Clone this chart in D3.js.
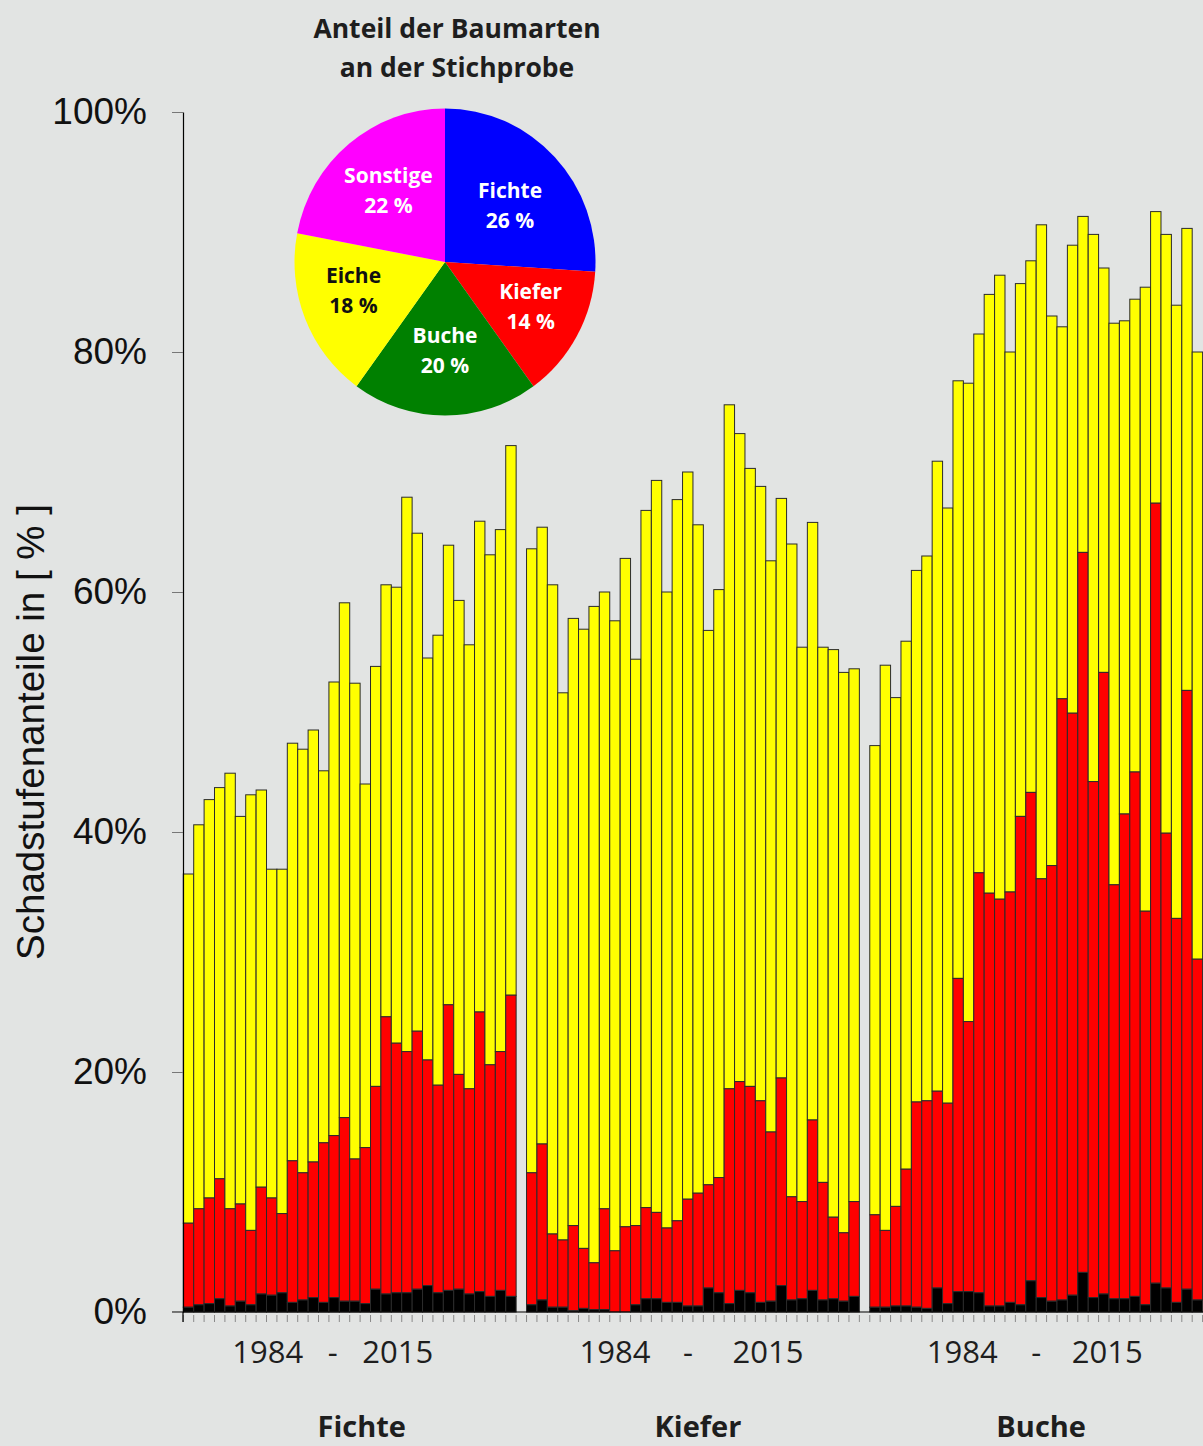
<!DOCTYPE html>
<html><head>
<meta charset="utf-8">
<title>Schadstufenanteile</title>
<script src="https://cdnjs.cloudflare.com/ajax/libs/d3/7.8.5/d3.min.js"></script>
<style>
body { margin: 0; background: #e2e4e3; }
svg { display: block; }
</style>
</head>
<body>
<div class="chart"></div>
<script>
// Erhebungsjahre 1984 - 2015
const years = [1984, 1985, 1986, 1987, 1988, 1989, 1990, 1991, 1992, 1993, 1994, 1995, 1996, 1997, 1998, 1999,
               2000, 2001, 2002, 2003, 2004, 2005, 2006, 2007, 2008, 2009, 2010, 2011, 2012, 2013, 2014, 2015];
const species = ["Fichte", "Kiefer", "Buche"];

// kumulierte Anteile in %: abgestorben (schwarz), deutlich geschaedigt (rot), gesamt inkl. Warnstufe (gelb)
const fichteAbg  = [0.4, 0.6, 0.7, 1.1, 0.5, 0.9, 0.6, 1.5, 1.4, 1.6, 0.8, 1.0, 1.2, 0.8, 1.2, 0.9, 0.9, 0.7, 1.9, 1.5, 1.6, 1.6, 1.9, 2.2, 1.6, 1.8, 1.9, 1.5, 1.7, 1.3, 1.8, 1.3];
const fichteDeut = [7.4, 8.6, 9.5, 11.1, 8.6, 9.0, 6.8, 10.4, 9.5, 8.2, 12.6, 11.6, 12.5, 14.1, 14.7, 16.2, 12.75, 13.7, 18.8, 24.6, 22.4, 21.7, 23.4, 21.0, 18.9, 25.6, 19.8, 18.6, 25.0, 20.6, 21.7, 26.4];
const fichteGes  = [36.5, 40.6, 42.7, 43.7, 44.9, 41.3, 43.1, 43.5, 36.9, 36.9, 47.4, 46.9, 48.5, 45.1, 52.5, 59.1, 52.4, 44.0, 53.8, 60.6, 60.4, 67.9, 64.9, 54.5, 56.4, 63.9, 59.3, 55.6, 65.9, 63.1, 65.2, 72.2];

const kieferAbg  = [0.6, 1.0, 0.4, 0.4, 0.1, 0.3, 0.2, 0.2, 0.0, 0.0, 0.6, 1.1, 1.1, 0.8, 0.8, 0.5, 0.5, 2.0, 1.6, 0.7, 1.8, 1.6, 0.8, 0.9, 2.2, 1.0, 1.1, 1.8, 1.0, 1.1, 0.9, 1.3];
const kieferDeut = [11.6, 14.0, 6.5, 6.0, 7.2, 5.3, 4.1, 8.6, 5.1, 7.1, 7.2, 8.7, 8.3, 7.0, 7.6, 9.4, 9.9, 10.6, 11.2, 18.6, 19.2, 18.8, 17.6, 15.0, 19.5, 9.6, 9.2, 16.0, 10.8, 7.9, 6.6, 9.2];
const kieferGes  = [63.6, 65.4, 60.6, 51.6, 57.8, 56.9, 58.8, 60.0, 57.6, 62.8, 54.4, 66.8, 69.3, 60.0, 67.7, 70.0, 65.6, 56.8, 60.2, 75.6, 73.2, 70.3, 68.8, 62.6, 67.8, 64.0, 55.4, 65.8, 55.4, 55.2, 53.3, 53.6];

const bucheAbg   = [0.4, 0.4, 0.5, 0.5, 0.4, 0.3, 2.0, 0.7, 1.7, 1.7, 1.6, 0.5, 0.5, 0.8, 0.6, 2.6, 1.2, 0.9, 1.0, 1.4, 3.3, 1.2, 1.5, 1.1, 1.1, 1.3, 0.6, 2.4, 2.0, 0.8, 1.9, 1.0];
const bucheDeut  = [8.1, 6.8, 8.8, 11.9, 17.5, 17.6, 18.4, 17.4, 27.8, 24.2, 36.6, 34.9, 34.4, 35.0, 41.3, 43.3, 36.1, 37.2, 51.1, 49.9, 63.3, 44.2, 53.3, 35.6, 41.5, 45.0, 33.4, 67.4, 39.9, 32.8, 51.8, 29.4];
const bucheGes   = [47.2, 53.9, 51.2, 55.9, 61.8, 63.0, 70.9, 67.0, 77.6, 77.4, 81.5, 84.8, 86.4, 80.0, 85.7, 87.6, 90.6, 83.0, 82.1, 88.9, 91.3, 89.8, 87.0, 82.4, 82.6, 84.4, 85.4, 91.7, 89.8, 83.9, 90.3, 80.0];

const yTicks = [0, 20, 40, 60, 80, 100];

// Anteil der Baumarten an der Stichprobe
const pieNames  = ["Fichte", "Kiefer", "Buche", "Eiche", "Sonstige"];
const pieValues = [26, 14, 20, 18, 22];
const pieColors = ["#0000ff", "#ff0000", "#008000", "#ffff00", "#ff00ff"];

const W = 1203, H = 1446;
const bg = "#e2e4e3";

const groups = [
  {name: species[0], abg: fichteAbg, deut: fichteDeut, ges: fichteGes},
  {name: species[1], abg: kieferAbg, deut: kieferDeut, ges: kieferGes},
  {name: species[2], abg: bucheAbg,  deut: bucheDeut,  ges: bucheGes}
];

const svg = d3.select(".chart").append("svg")
    .attr("width", W).attr("height", H);
svg.append("rect").attr("width", W).attr("height", H).attr("fill", bg);

// 32 Jahre pro Gruppe + 1 Luecke
const slots = groups.length * (years.length + 1) - 1;
const x = d3.scaleBand().domain(d3.range(slots)).range([183.3, 1202.6]).padding(0);
const y = d3.scaleLinear().domain([0, 100]).range([1312, 112]);

const slotOf = (g, i) => g * (years.length + 1) + i;

const barData = [];
groups.forEach((grp, g) => {
  years.forEach((yr, i) => {
    const a = grp.abg[i], d = grp.deut[i], t = grp.ges[i];
    barData.push({slot: slotOf(g, i), lo: d, hi: t, fill: "#ffff00"});
    barData.push({slot: slotOf(g, i), lo: a, hi: d, fill: "#ff0000"});
    barData.push({slot: slotOf(g, i), lo: 0, hi: a, fill: "#000000"});
  });
});

svg.append("g").selectAll("rect")
  .data(barData.filter(d => d.hi > d.lo))
  .join("rect")
    .attr("x", d => x(d.slot))
    .attr("width", x.bandwidth())
    .attr("y", d => y(d.hi))
    .attr("height", d => y(d.lo) - y(d.hi))
    .attr("fill", d => d.fill)
    .attr("stroke", "#2b2b2b")
    .attr("stroke-width", 1);

// x-Achse: Linie und Striche an den Balkengrenzen
svg.append("line")
    .attr("x1", 172).attr("x2", W)
    .attr("y1", y(0)).attr("y2", y(0))
    .attr("stroke", "#000").attr("stroke-width", 1.2);

const tickX = [];
groups.forEach((grp, g) => {
  for (let i = 0; i <= years.length; i++) tickX.push(x(slotOf(g, 0)) + i * x.bandwidth());
});
svg.append("g").selectAll("line")
  .data(tickX)
  .join("line")
    .attr("x1", d => d).attr("x2", d => d)
    .attr("y1", y(0) + 3).attr("y2", y(0) + 10)
    .attr("stroke", "#8a8a8a").attr("stroke-width", 1);

// y-Achse
const yAxis = svg.append("g")
    .attr("transform", "translate(183,0)")
    .call(d3.axisLeft(y).tickValues(yTicks).tickFormat(d => d + "%")
      .tickSize(11).tickSizeOuter(0).tickPadding(25));
yAxis.select(".domain").attr("stroke", "#000").attr("stroke-width", 1.2);
yAxis.selectAll(".tick line").attr("stroke", "#777");
yAxis.selectAll(".tick text")
    .attr("font-family", "'Liberation Sans', Arial, sans-serif")
    .attr("font-size", 37)
    .attr("fill", "#111");
svg.append("line")
    .attr("x1", 183).attr("x2", 183).attr("y1", y(0)).attr("y2", y(0) + 10)
    .attr("stroke", "#000").attr("stroke-width", 1.2);

svg.append("text")
    .attr("transform", "translate(44,732) rotate(-90)")
    .attr("text-anchor", "middle")
    .attr("font-family", "'Liberation Sans', Arial, sans-serif")
    .attr("font-size", 38.5)
    .attr("fill", "#111")
    .text("Schadstufenanteile in [ % ]");

// Jahresangaben und Baumart unter jeder Gruppe
const yrOffsets = [[-82, -17, 48], [-78, -5, 75], [-74, 0, 71]];
const nameOffsets = [12, 5, 5];
groups.forEach((grp, g) => {
  const cx = (x(slotOf(g, 0)) + x(slotOf(g, years.length - 1)) + x.bandwidth()) / 2;
  const parts = [String(years[0]), "-", String(years[years.length - 1])];
  parts.forEach((p, k) => {
    svg.append("text")
        .attr("x", cx + yrOffsets[g][k]).attr("y", 1363)
        .attr("text-anchor", "middle")
        .attr("font-family", "'Open Sans', sans-serif")
        .attr("font-size", 31)
        .attr("fill", "#1e1e1e")
        .text(p);
  });
  svg.append("text")
      .attr("x", cx + nameOffsets[g]).attr("y", 1437)
      .attr("text-anchor", "middle")
      .attr("font-family", "'Open Sans', sans-serif")
      .attr("font-weight", "bold")
      .attr("font-size", 29)
      .attr("fill", "#1e1e1e")
      .text(grp.name);
});

// Kreisdiagramm
const title = ["Anteil der Baumarten", "an der Stichprobe"];
title.forEach((t, k) => {
  svg.append("text")
      .attr("x", 457).attr("y", 38 + k * 39)
      .attr("text-anchor", "middle")
      .attr("font-family", "'Open Sans', sans-serif")
      .attr("font-weight", "bold")
      .attr("font-size", 26.5)
      .attr("fill", "#1e1e1e")
      .text(t);
});

const pieG = svg.append("g").attr("transform", "translate(445,262) scale(1,1.02)");
const pie = d3.pie().sort(null).value(d => d.v);
const arc = d3.arc().innerRadius(0).outerRadius(150.5);
const labelArc = d3.arc().innerRadius(92).outerRadius(92);
const pieData = pie(pieNames.map((n, i) => ({name: n, v: pieValues[i], color: pieColors[i]})));

pieG.selectAll("path")
  .data(pieData)
  .join("path")
    .attr("d", arc)
    .attr("fill", d => d.data.color);

// kleine Verschiebungen der Beschriftung wie im Original
const labelNudge = [[-2, 7], [5, 0], [0, -3], [-6, -5], [2, 0]];
const lbl = svg.append("g").attr("transform", "translate(445,262)");
pieData.forEach((d, i) => {
  const [cx, cy] = labelArc.centroid(d);
  const fill = d.data.name === "Eiche" ? "#111" : "#fff";
  [d.data.name, d.data.v + " %"].forEach((t, k) => {
    lbl.append("text")
        .attr("x", cx + labelNudge[i][0]).attr("y", cy + labelNudge[i][1] - 15 + k * 30)
        .attr("dy", "0.35em")
        .attr("text-anchor", "middle")
        .attr("font-family", "'Open Sans', sans-serif")
        .attr("font-weight", "bold")
        .attr("font-size", 21)
        .attr("fill", fill)
        .text(t);
  });
});
</script>
</body>
</html>
